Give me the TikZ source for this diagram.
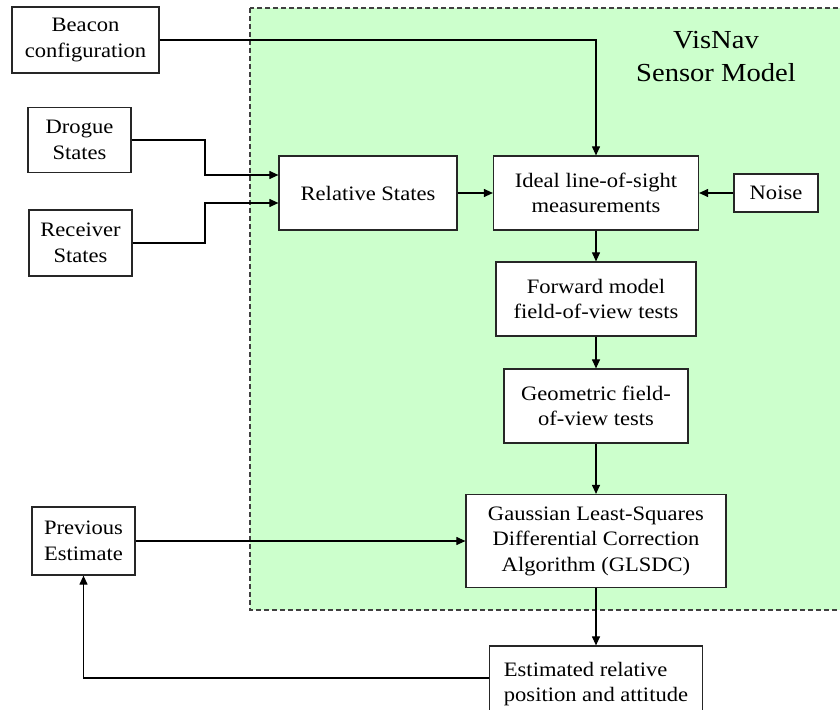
\documentclass[tikz,border=0pt]{standalone}
\usepackage{fontspec}
\setmainfont{Liberation Serif}[FakeStretch=1.1]
\usetikzlibrary{arrows.meta}
\definecolor{panelgreen}{RGB}{204,255,204}
\definecolor{paneledge}{RGB}{64,64,64}
\begin{document}
\begin{tikzpicture}[x=1pt,y=-1pt,
  block/.style={draw=black!85, fill=white, line width=1.2pt, align=center, inner sep=3pt,
    font=\fontsize{20.5}{25.5}\selectfont},
  link/.style={draw=black, line width=1.1pt, -{Triangle[length=9pt,width=8pt]}},
  paneltitle/.style={align=center, font=\fontsize{26}{33}\selectfont}]
\useasboundingbox (0,0) rectangle (840,709);

% sensor model panel
\draw[fill=panelgreen, draw=paneledge, line width=1.1pt, dash pattern=on 5pt off 3pt]
  (250,8) rectangle (870,610);
\node[paneltitle] (title) at (716,57) {VisNav\\Sensor Model};

% inputs
\node[block, minimum width=147pt, minimum height=66pt] (beacon) at (85.5,40) {Beacon\\configuration};
\node[block, minimum width=103pt, minimum height=65pt] (drogue) at (79.5,140) {Drogue\\States};
\node[block, minimum width=103pt, minimum height=66pt] (receiver) at (80.5,243) {Receiver\\States};
\node[block, minimum width=103pt, minimum height=68pt] (prev) at (83.5,541) {Previous\\Estimate};

% processing chain
\node[block, minimum width=178pt, minimum height=74pt] (rel) at (368,193) {Relative States};
\node[block, minimum width=205pt, minimum height=74pt] (ideal) at (596,193) {Ideal line-of-sight\\measurements};
\node[block, minimum width=84pt, minimum height=38pt] (noise) at (776,193) {Noise};
\node[block, minimum width=200pt, minimum height=74pt] (fwd) at (596,299) {Forward model\\field-of-view tests};
\node[block, minimum width=184pt, minimum height=74pt] (geo) at (596,406) {Geometric field-\\of-view tests};
\node[block, minimum width=260pt, minimum height=93pt] (glsdc) at (596,541) {Gaussian Least-Squares\\Differential Correction\\Algorithm (GLSDC)};
\node[block, align=left, minimum width=213pt, minimum height=76pt] (est) at (596,684) {Estimated relative\\position and attitude};

% connectors
\coordinate (jx) at (205,0);
\draw[link] (beacon.east) -| (ideal.north);
\draw[link] (drogue.east) -- (drogue.east -| jx) |- ([yshift=18pt]rel.west);
\draw[link] (receiver.east) -- (receiver.east -| jx) |- ([yshift=-10pt]rel.west);
\draw[link] (rel) -- (ideal);
\draw[link] (noise) -- (ideal);
\draw[link] (ideal) -- (fwd);
\draw[link] (fwd) -- (geo);
\draw[link] (geo) -- (glsdc);
\draw[link] (glsdc) -- (est);
\draw[link] (prev) -- (glsdc);
\draw[link] ([yshift=6pt]est.west) -| (prev.south);
\end{tikzpicture}
\end{document}
